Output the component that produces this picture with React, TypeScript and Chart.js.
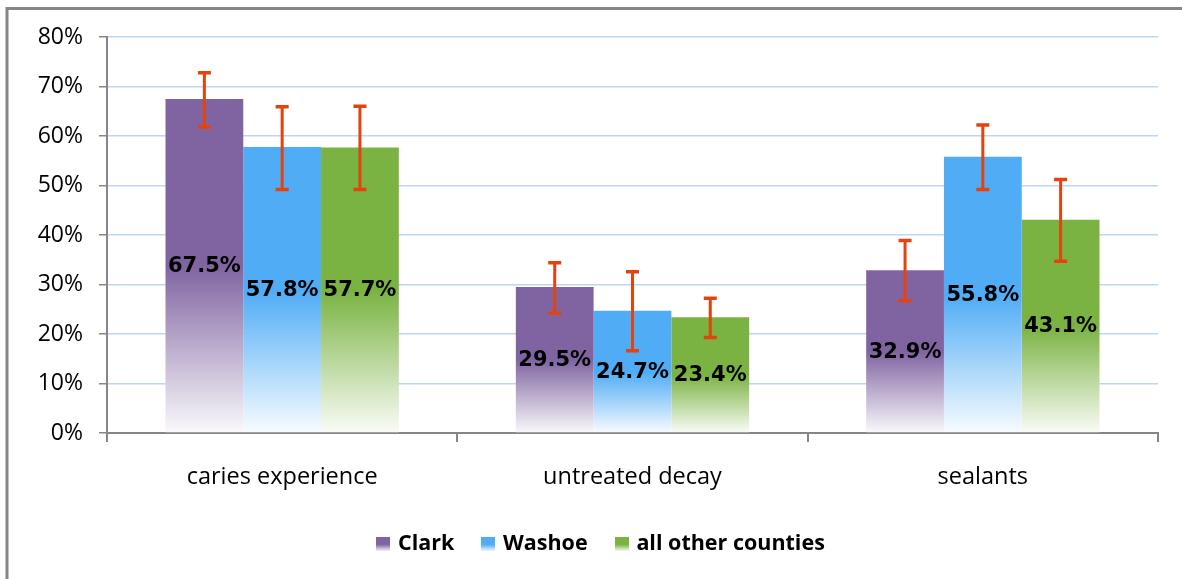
import React, { useEffect, useRef } from 'react';
import { Chart, registerables } from 'chart.js';

Chart.register(...registerables);

const categories = ['caries experience', 'untreated decay', 'sealants'];
const seriesNames = ['Clark', 'Washoe', 'all other counties'];
const clarkValues = [67.5, 29.5, 32.9];
const washoeValues = [57.8, 24.7, 55.8];
const otherValues = [57.7, 23.4, 43.1];
const clarkLow = [61.8, 24.2, 26.7];
const clarkHigh = [72.8, 34.4, 38.9];
const washoeLow = [49.2, 16.6, 49.2];
const washoeHigh = [65.9, 32.6, 62.2];
const otherLow = [49.2, 19.3, 34.7];
const otherHigh = [66.0, 27.2, 51.2];
const yMin = 0;
const yMax = 80;
const yStep = 10;

const seriesColors = ['#8064A2', '#4FACF5', '#7AB342'];
const errorColor = '#E2430F';
const axisGray = '#868686';
const gridBlue = '#BBD7F3';

function mixWhite(hex: string, t: number) {
  const n = parseInt(hex.slice(1), 16);
  const r = (n >> 16) & 255, g = (n >> 8) & 255, b = n & 255;
  const m = (c: number) => Math.round(c + (255 - c) * t);
  return `rgb(${m(r)},${m(g)},${m(b)})`;
}

function barFill(color: string) {
  return (ctx: any) => {
    const chart = ctx.chart;
    const { chartArea, scales } = chart;
    if (!chartArea || ctx.type !== 'data' || !scales.y) return color;
    const v = ctx.parsed ? ctx.parsed.y : ctx.raw;
    const top = scales.y.getPixelForValue(v);
    const base = scales.y.getPixelForValue(0);
    if (!isFinite(top) || !isFinite(base) || base - top < 1) return color;
    const g = chart.ctx.createLinearGradient(0, top, 0, base);
    g.addColorStop(0, color);
    g.addColorStop(0.5, color);
    g.addColorStop(1, mixWhite(color, 0.96));
    return g;
  };
}

function legendIcon(color: string) {
  const c = document.createElement('canvas');
  c.width = 14;
  c.height = 14;
  const x = c.getContext('2d')!;
  const g = x.createLinearGradient(0, 0, 0, 14);
  g.addColorStop(0, color);
  g.addColorStop(0.55, color);
  g.addColorStop(1, mixWhite(color, 0.9));
  x.fillStyle = g;
  x.fillRect(0, 0, 14, 14);
  return c;
}

const errorLows = [clarkLow, washoeLow, otherLow];
const errorHighs = [clarkHigh, washoeHigh, otherHigh];

const errorBarsPlugin = {
  id: 'errorBars',
  afterDatasetsDraw(chart: any) {
    const { ctx, scales } = chart;
    chart.data.datasets.forEach((_ds: any, di: number) => {
      const meta = chart.getDatasetMeta(di);
      meta.data.forEach((el: any, i: number) => {
        const x = el.x;
        const yH = scales.y.getPixelForValue(errorHighs[di][i]);
        const yL = scales.y.getPixelForValue(errorLows[di][i]);
        ctx.save();
        ctx.strokeStyle = errorColor;
        ctx.lineWidth = 3;
        ctx.beginPath();
        ctx.moveTo(x, yH);
        ctx.lineTo(x, yL);
        ctx.stroke();
        ctx.lineWidth = 3.5;
        ctx.beginPath();
        ctx.moveTo(x - 6.5, yH);
        ctx.lineTo(x + 6.5, yH);
        ctx.moveTo(x - 6.5, yL);
        ctx.lineTo(x + 6.5, yL);
        ctx.stroke();
        ctx.restore();
      });
    });
  },
};

const valueLabelsPlugin = {
  id: 'valueLabels',
  afterDatasetsDraw(chart: any) {
    const { ctx } = chart;
    chart.data.datasets.forEach((ds: any, di: number) => {
      const meta = chart.getDatasetMeta(di);
      meta.data.forEach((el: any, i: number) => {
        const v = ds.data[i];
        ctx.save();
        ctx.font = 'bold 21px "DejaVu Sans"';
        ctx.fillStyle = '#000';
        ctx.textAlign = 'center';
        ctx.textBaseline = 'middle';
        ctx.fillText(v.toFixed(1) + '%', el.x, (el.y + el.base) / 2 + 1);
        ctx.restore();
      });
    });
  },
};

const framePlugin = {
  id: 'frame',
  afterLayout(chart: any) {
    const lg = chart.legend;
    if (lg) {
      lg.left += 23;
      lg.right += 23;
    }
  },
  beforeDraw(chart: any) {
    const { ctx, width, height } = chart;
    ctx.save();
    ctx.fillStyle = '#fff';
    ctx.fillRect(0, 0, width, height);
    ctx.strokeStyle = axisGray;
    ctx.lineWidth = 3;
    ctx.strokeRect(7, 8.5, width + 50, height + 50);
    ctx.restore();
  },
};

export default function App() {
  const ref = useRef<HTMLCanvasElement>(null);
  useEffect(() => {
    if (!ref.current) return;
    const icons = seriesColors.map(legendIcon);
    const values = [clarkValues, washoeValues, otherValues];
    const chart = new Chart(ref.current, {
      type: 'bar',
      data: {
        labels: categories,
        datasets: seriesNames.map((name, i) => ({
          label: name,
          data: values[i],
          backgroundColor: barFill(seriesColors[i]),
          borderWidth: 0,
          categoryPercentage: 0.666,
          barPercentage: 1,
        })),
      },
      options: {
        responsive: false,
        animation: false,
        events: [],
        layout: { padding: { left: 0, right: 24, top: 37, bottom: 26 } },
        plugins: {
          tooltip: { enabled: false },
          legend: {
            position: 'bottom',
            maxHeight: 50,
            labels: {
              usePointStyle: true,
              boxWidth: 8,
              boxHeight: 14,
              padding: 30,
              color: '#000',
              font: { family: '"Open Sans"', size: 21.5, weight: 'bold' },
              generateLabels: (c: any) =>
                c.data.datasets.map((ds: any, i: number) => ({
                  text: ds.label,
                  fillStyle: seriesColors[i],
                  strokeStyle: seriesColors[i],
                  lineWidth: 0,
                  pointStyle: icons[i],
                  hidden: false,
                  datasetIndex: i,
                  fontColor: '#000',
                })),
            },
          },
        },
        scales: {
          x: {
            afterFit: (s: any) => { s.height = 70; },
            grid: {
              drawOnChartArea: false,
              drawTicks: true,
              tickLength: 9,
              color: axisGray,
              tickColor: axisGray,
              lineWidth: 2,
            },
            border: { color: axisGray, width: 2 },
            ticks: {
              color: '#000',
              padding: 21,
              font: { family: '"Open Sans"', size: 23.5 },
            },
          },
          y: {
            min: yMin,
            max: yMax,
            afterFit: (s: any) => { s.width = 107; },
            grid: {
              color: (c: any) => (c.tick && c.tick.value === 0 ? 'rgba(0,0,0,0)' : gridBlue),
              tickColor: axisGray,
              tickLength: 8,
              lineWidth: 1.5,
            },
            border: { color: axisGray, width: 2 },
            ticks: {
              stepSize: yStep,
              padding: 16,
              color: '#000',
              font: { family: '"Open Sans"', size: 23 },
              callback: (v: any) => v + '%',
            },
          },
        },
      },
      plugins: [framePlugin, errorBarsPlugin, valueLabelsPlugin],
    } as any);
    return () => chart.destroy();
  }, []);
  return (
    <div style={{ position: 'fixed', left: 0, top: 0, width: 1182, height: 579 }}>
      <canvas ref={ref} width={1182} height={579} />
    </div>
  );
}
